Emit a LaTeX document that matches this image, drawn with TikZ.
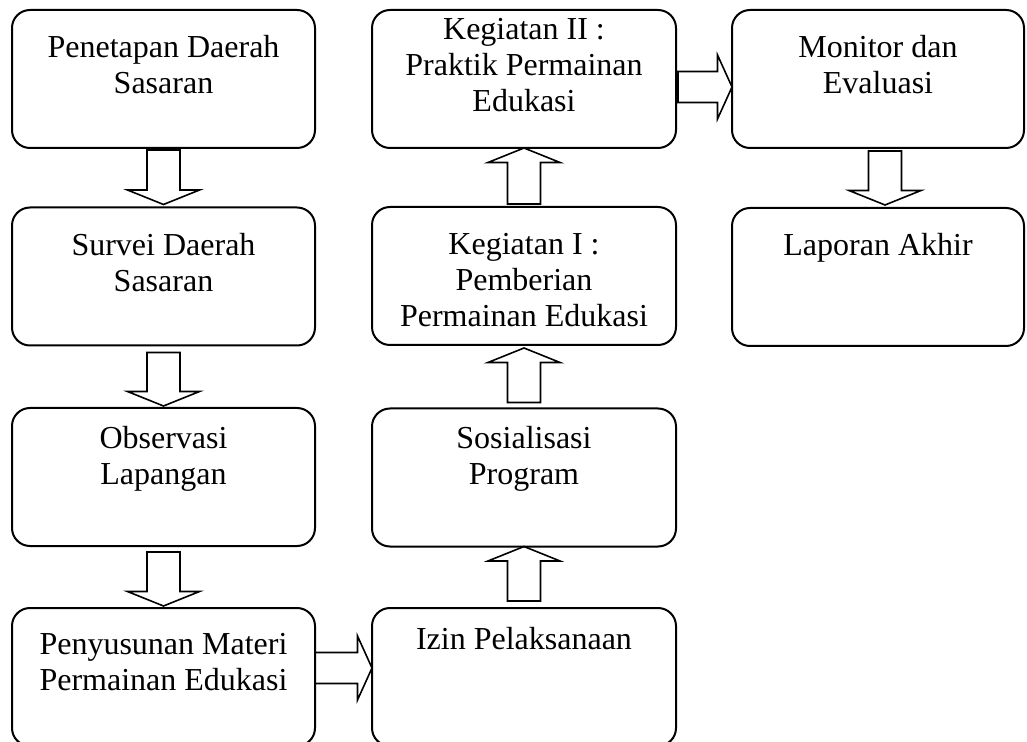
\documentclass[tikz,border=0pt]{standalone}
\usepackage{fontspec}
\setmainfont{Liberation Serif}
\usetikzlibrary{calc}
\tikzset{
  box/.style={draw, line width=1pt, rounded corners=9pt, minimum width=151.5pt, minimum height=69pt, inner sep=0pt, outer sep=0pt},
  txt/.style={anchor=north, align=center, inner sep=0pt, font=\fontsize{16}{18}\selectfont},
  fat/.style 2 args={draw, line width=.8pt, to path={
    ($(\tikztostart)!#1!90:(\tikztotarget)$) -- ($(\tikztotarget)!7.25pt!(\tikztostart)!#1!-90:(\tikztostart)$)
    -- ($(\tikztotarget)!7.25pt!(\tikztostart)!#2!-90:(\tikztostart)$) -- (\tikztotarget)
    -- ($(\tikztotarget)!7.25pt!(\tikztostart)!#2!90:(\tikztostart)$) -- ($(\tikztotarget)!7.25pt!(\tikztostart)!#1!90:(\tikztostart)$)
    -- ($(\tikztostart)!#1!-90:(\tikztotarget)$) -- cycle}}
}
\begin{document}
\begin{tikzpicture}[x=0.5pt, y=-0.5pt]
\useasboundingbox (0,0) rectangle (1027,742);
\node[box] (pen) at (163.5,79) {};
\node[box] (sur) at (163.5,276.5) {};
\node[box] (obs) at (163.5,477) {};
\node[box] (pyu) at (163.5,677) {};
\node[box, minimum width=152pt] (kg2) at (524,79) {};
\node[box, minimum width=152pt] (kg1) at (524,276) {};
\node[box, minimum width=152pt] (sos) at (524,477.5) {};
\node[box, minimum width=152pt] (izin) at (524,677) {};
\node[box, minimum width=146pt] (mon) at (878,79) {};
\node[box, minimum width=146pt] (lap) at (878,277) {};
\node[txt] (pen-t) at (163.5,35) {Penetapan Daerah\\Sasaran};
\node[txt] (sur-t) at (163.5,233) {Survei Daerah\\Sasaran};
\node[txt] (obs-t) at (163.5,426) {Observasi\\Lapangan};
\node[txt] (pyu-t) at (163.5,633) {Penyusunan Materi\\Permainan Edukasi};
\node[txt] (kg2-t) at (524,18) {Kegiatan II :\\Praktik Permainan\\Edukasi};
\node[txt] (kg1-t) at (524,233) {Kegiatan I :\\Pemberian\\Permainan Edukasi};
\node[txt] (sos-t) at (524,426) {Sosialisasi\\Program};
\node[txt] (izin-t) at (524,627) {Izin Pelaksanaan};
\node[txt] (mon-t) at (878,35) {Monitor dan\\Evaluasi};
\node[txt] (lap-t) at (878,233) {Laporan Akhir};
\draw[fat={8.25pt}{18pt}] ([yshift=-1pt]pen.south) to ([yshift=1.5pt]sur.north);
\draw[fat={8.25pt}{18pt}] ([yshift=-3.5pt]sur.south) to ([yshift=1pt]obs.north);
\draw[fat={8.25pt}{18pt}] ([yshift=-3pt]obs.south) to ([yshift=1pt]pyu.north);
\draw[fat={7.75pt}{16pt}] ([yshift=4.5pt]pyu.east) to ([yshift=4.5pt]izin.west);
\draw[fat={8.25pt}{18pt}] ([yshift=3.5pt]izin.north) to (sos.south);
\draw[fat={8.25pt}{18pt}] ([yshift=3pt]sos.north) to ([yshift=-1.5pt]kg1.south);
\draw[fat={8.25pt}{18pt}] ([yshift=1.5pt]kg1.north) to (kg2.south);
\draw[fat={7.75pt}{16pt}] ([shift={(1pt,-4pt)}]kg2.east) to ([yshift=-4pt]mon.west);
\draw[fat={8.25pt}{18pt}] ([shift={(3.5pt,-1.5pt)}]mon.south) to ([shift={(3.5pt,1.5pt)}]lap.north);
\end{tikzpicture}
\end{document}
